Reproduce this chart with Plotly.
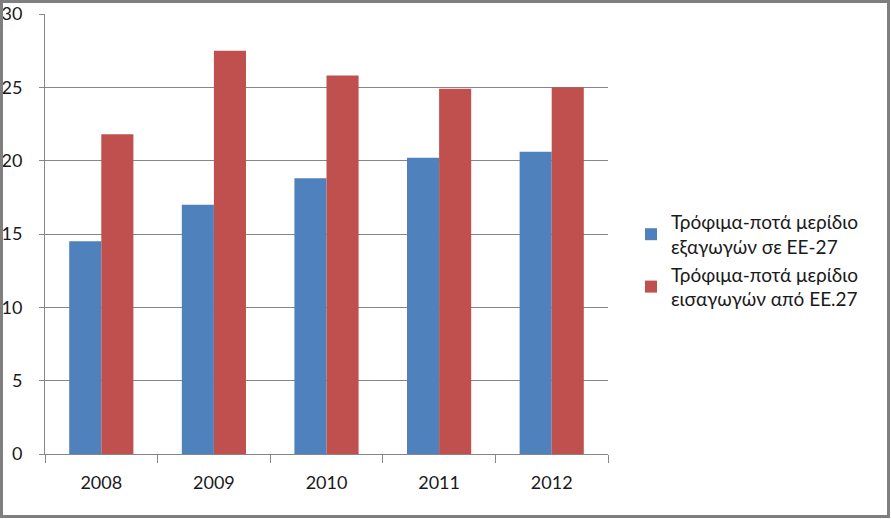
import plotly.graph_objects as go

years = ["2008", "2009", "2010", "2011", "2012"]
exports_share = [14.5, 17.0, 18.8, 20.2, 20.6]
imports_share = [21.8, 27.5, 25.8, 24.9, 25.0]
series_names = ["Τρόφιμα-ποτά μερίδιο<br>εξαγωγών σε ΕΕ-27",
                "Τρόφιμα-ποτά μερίδιο<br>εισαγωγών από ΕΕ.27"]

W, H = 891, 519
ml, mr, mt, mb = 45, 283, 14, 65
pw, ph = W - ml - mr, H - mt - mb

fig = go.Figure()
fig.add_trace(go.Bar(x=years, y=exports_share, name=series_names[0],
                     marker=dict(color="#4F81BD", line=dict(width=0))))
fig.add_trace(go.Bar(x=years, y=imports_share, name=series_names[1],
                     marker=dict(color="#C0504D", line=dict(width=0))))

font_family = "Lato, sans-serif"
fig.update_layout(
    width=W, height=H,
    margin=dict(l=ml, r=mr, t=mt, b=mb, pad=0, autoexpand=False),
    paper_bgcolor="white", plot_bgcolor="white",
    barmode="group", bargap=0.43, bargroupgap=0,
    font=dict(family=font_family, size=18, color="#1a1a1a"),
    showlegend=True,
    legend=dict(x=(631 - ml) / pw, xanchor="left", y=(454 - 260.5) / ph, yanchor="middle",
                font=dict(size=19, color="#1a1a1a"), tracegroupgap=27,
                itemwidth=30, bgcolor="rgba(0,0,0,0)"),
    xaxis=dict(type="category", showline=True, linecolor="#868686", linewidth=1,
               ticks="outside", ticklen=8, tickcolor="#868686", tickson="boundaries",
               showgrid=False, tickfont=dict(size=18), ticklabelstandoff=12,
               automargin=False),
    yaxis=dict(range=[0, 30], dtick=5, tick0=0, showline=True, linecolor="#868686",
               linewidth=1, ticks="outside", ticklen=5, tickcolor="#868686",
               showgrid=True, gridcolor="#868686", gridwidth=1, zeroline=False,
               tickfont=dict(size=18), ticklabelstandoff=13, automargin=False),
    shapes=[dict(type="rect", xref="paper", yref="paper",
                 x0=(1.5 - ml) / pw, x1=(W - 2.5 - ml) / pw,
                 y0=-(mb - 2.5) / ph, y1=1 + (mt - 1.5) / ph,
                 line=dict(color="#7F7F7F", width=3), layer="above")],
)

fig.write_html("out.html")
